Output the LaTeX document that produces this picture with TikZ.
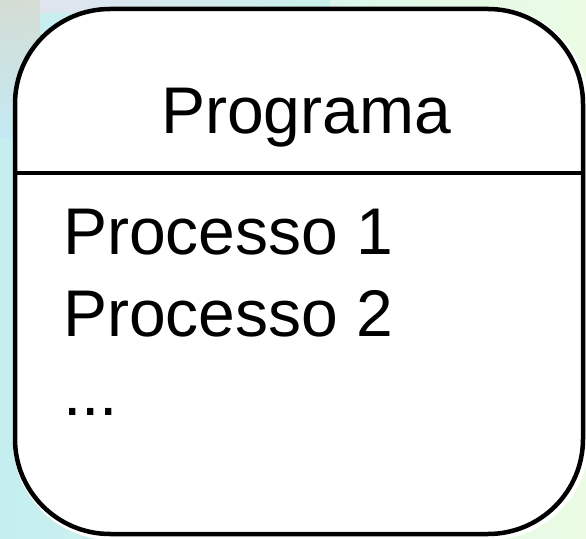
\documentclass[tikz,border=0pt]{standalone}
\usepackage{fontspec}
\setmainfont{Liberation Sans}
\begin{document}
\begin{tikzpicture}[x=1pt,y=1pt,
  boxline/.style={line width=4.5pt},
  label/.style={inner sep=0pt,font=\fontsize{66}{78}\selectfont}]
\useasboundingbox (0,0) rectangle (586,538);
\shade[left color={rgb,255:red,196;green,238;blue,240}, right color={rgb,255:red,236;green,252;blue,228}] (0,0) rectangle (586,538);
\shade[top color={rgb,255:red,220;green,214;blue,200}, bottom color={rgb,255:red,196;green,232;blue,246}, opacity=0.7] (0,538) rectangle (40,400);
\shade[left color={rgb,255:red,230;green,226;blue,240}, right color={rgb,255:red,196;green,240;blue,236}, opacity=0.8] (40,538) rectangle (330,525);
\draw[white,line width=8pt,rounded corners=95pt] (17,2) rectangle (585,527);
\draw[boxline,fill=white,rounded corners=95pt] (15,4) rectangle (583,529);
\coordinate (dl) at (15,365);
\coordinate (dr) at (583,365);
\draw[boxline] (dl) -- (dr);
\node[label,anchor=base] (title) at (306,404) {Programa};
\node[label,anchor=base west] (p1) at (63,283) {Processo 1};
\node[label,anchor=base west] (p2) at (63,201) {Processo 2};
\node[label,anchor=base west] (dots) at (63,122) {...};
\end{tikzpicture}
\end{document}
